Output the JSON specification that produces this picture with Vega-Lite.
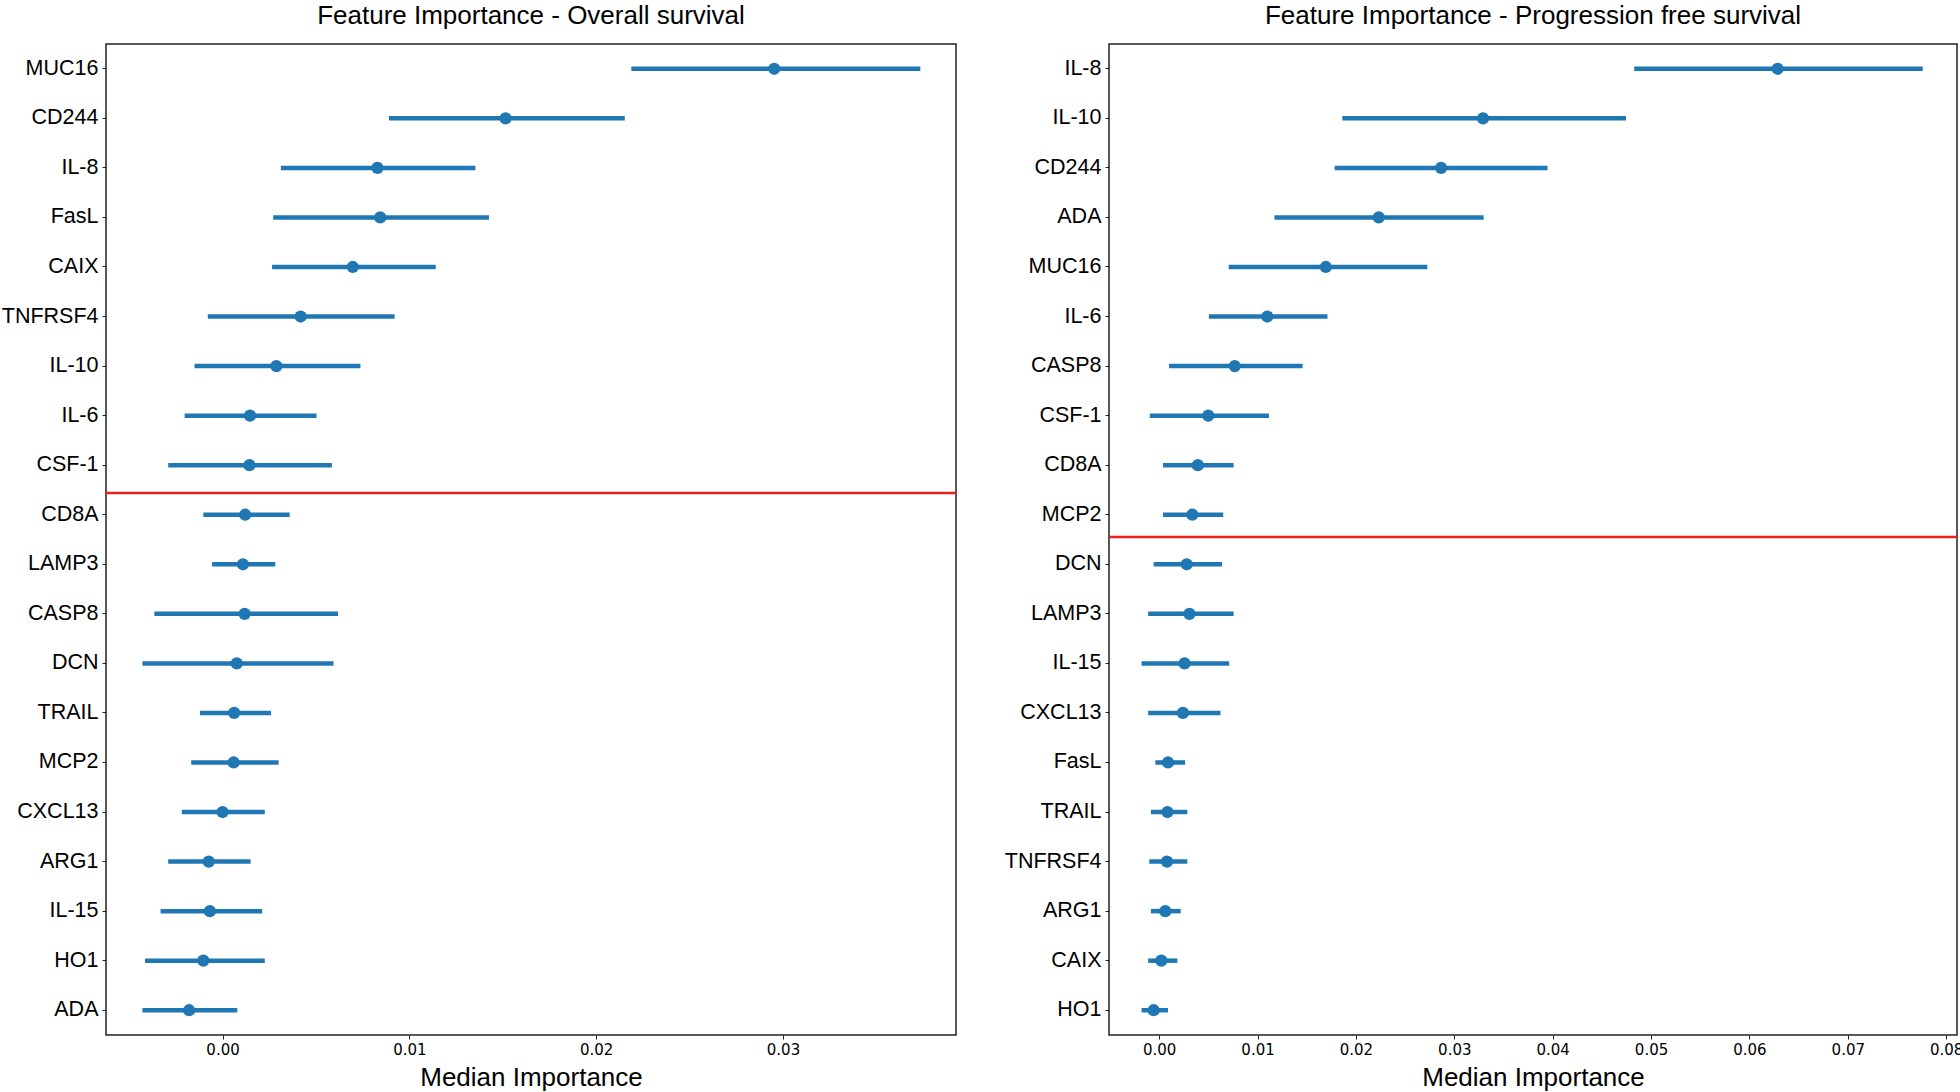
{
  "$schema": "https://vega.github.io/schema/vega-lite/v6.json",
  "padding": {"top": 2, "left": 0, "right": 0, "bottom": 0},
  "background": "white",
  "spacing": 40,
  "config": {
    "view": {"stroke": "#222222", "strokeWidth": 1.5},
    "axis": {"grid": false, "domain": false, "tickColor": "#222222", "tickSize": 4, "labelColor": "black", "titleColor": "black"},
    "title": {"font": "Liberation Sans", "fontSize": 26, "fontWeight": "normal", "color": "black", "baseline": "alphabetic", "offset": 15}
  },
  "datasets": {
    "os": [
      {"feature": "MUC16", "lo": 0.02188, "median": 0.02953, "hi": 0.03735},
      {"feature": "CD244", "lo": 0.00891, "median": 0.01515, "hi": 0.02153},
      {"feature": "IL-8", "lo": 0.00312, "median": 0.00829, "hi": 0.01353},
      {"feature": "FasL", "lo": 0.00271, "median": 0.00844, "hi": 0.01426},
      {"feature": "CAIX", "lo": 0.00265, "median": 0.00697, "hi": 0.01141},
      {"feature": "TNFRSF4", "lo": -0.00079, "median": 0.00418, "hi": 0.00921},
      {"feature": "IL-10", "lo": -0.0015, "median": 0.00288, "hi": 0.00738},
      {"feature": "IL-6", "lo": -0.00203, "median": 0.00147, "hi": 0.00503},
      {"feature": "CSF-1", "lo": -0.00291, "median": 0.00144, "hi": 0.00585},
      {"feature": "CD8A", "lo": -0.00103, "median": 0.00121, "hi": 0.00359},
      {"feature": "LAMP3", "lo": -0.00056, "median": 0.00109, "hi": 0.00282},
      {"feature": "CASP8", "lo": -0.00365, "median": 0.00118, "hi": 0.00618},
      {"feature": "DCN", "lo": -0.00429, "median": 0.00076, "hi": 0.00594},
      {"feature": "TRAIL", "lo": -0.00121, "median": 0.00062, "hi": 0.00259},
      {"feature": "MCP2", "lo": -0.00168, "median": 0.00059, "hi": 0.003},
      {"feature": "CXCL13", "lo": -0.00218, "median": 0.0, "hi": 0.00226},
      {"feature": "ARG1", "lo": -0.00291, "median": -0.00074, "hi": 0.0015},
      {"feature": "IL-15", "lo": -0.00332, "median": -0.00068, "hi": 0.00212},
      {"feature": "HO1", "lo": -0.00415, "median": -0.00103, "hi": 0.00226},
      {"feature": "ADA", "lo": -0.00429, "median": -0.00179, "hi": 0.00079}
    ],
    "pfs": [
      {"feature": "IL-8", "lo": 0.04829, "median": 0.06287, "hi": 0.07762},
      {"feature": "IL-10", "lo": 0.01862, "median": 0.03292, "hi": 0.04745},
      {"feature": "CD244", "lo": 0.01784, "median": 0.02866, "hi": 0.03948},
      {"feature": "ADA", "lo": 0.01172, "median": 0.02232, "hi": 0.03298},
      {"feature": "MUC16", "lo": 0.00707, "median": 0.01694, "hi": 0.02726},
      {"feature": "IL-6", "lo": 0.00505, "median": 0.01099, "hi": 0.01711},
      {"feature": "CASP8", "lo": 0.00101, "median": 0.00768, "hi": 0.01458},
      {"feature": "CSF-1", "lo": -0.00095, "median": 0.00499, "hi": 0.01116},
      {"feature": "CD8A", "lo": 0.00039, "median": 0.00393, "hi": 0.00757},
      {"feature": "MCP2", "lo": 0.00039, "median": 0.00337, "hi": 0.00651},
      {"feature": "DCN", "lo": -0.00056, "median": 0.0028, "hi": 0.00639},
      {"feature": "LAMP3", "lo": -0.00112, "median": 0.00308, "hi": 0.00757},
      {"feature": "IL-15", "lo": -0.00179, "median": 0.00258, "hi": 0.00712},
      {"feature": "CXCL13", "lo": -0.00112, "median": 0.00241, "hi": 0.00623},
      {"feature": "FasL", "lo": -0.00039, "median": 0.0009, "hi": 0.00264},
      {"feature": "TRAIL", "lo": -0.00084, "median": 0.00084, "hi": 0.00286},
      {"feature": "TNFRSF4", "lo": -0.00101, "median": 0.00079, "hi": 0.00286},
      {"feature": "ARG1", "lo": -0.00084, "median": 0.00062, "hi": 0.00219},
      {"feature": "CAIX", "lo": -0.00112, "median": 0.00022, "hi": 0.00185},
      {"feature": "HO1", "lo": -0.00179, "median": -0.00056, "hi": 0.0009}
    ],
    "os_cut": [{"feature": "CD8A"}],
    "pfs_cut": [{"feature": "MCP2"}]
  },
  "hconcat": [
    {
      "width": 850,
      "height": 991,
      "title": {"text": "Feature Importance - Overall survival"},
      "layer": [
        {
          "data": {"name": "os"},
          "mark": {"type": "rule", "color": "#1f77b4", "strokeWidth": 4.5},
          "encoding": {
            "y": {"field": "feature", "type": "nominal",
              "scale": {"domain": ["MUC16","CD244","IL-8","FasL","CAIX","TNFRSF4","IL-10","IL-6","CSF-1","CD8A","LAMP3","CASP8","DCN","TRAIL","MCP2","CXCL13","ARG1","IL-15","HO1","ADA"], "paddingInner": 0, "paddingOuter": 0},
              "axis": {"title": null, "labelFont": "Liberation Sans", "labelFontSize": 21.5, "labelPadding": 4, "minExtent": 105, "maxExtent": 105}},
            "x": {"field": "lo", "type": "quantitative",
              "scale": {"domain": [-0.00624, 0.03926], "nice": false, "zero": false},
              "axis": {"title": "Median Importance", "values": [0, 0.01, 0.02, 0.03], "format": ".2f", "labelFont": "DejaVu Sans", "labelFontSize": 15, "labelPadding": 3, "titleFont": "Liberation Sans", "titleFontSize": 26, "titleFontWeight": "normal", "titlePadding": 7}},
            "x2": {"field": "hi"}
          }
        },
        {
          "data": {"name": "os"},
          "mark": {"type": "circle", "color": "#1f77b4", "opacity": 1, "size": 150},
          "encoding": {
            "y": {"field": "feature", "type": "nominal"},
            "x": {"field": "median", "type": "quantitative"}
          }
        },
        {
          "data": {"name": "os_cut"},
          "mark": {"type": "rule", "color": "#e8211d", "strokeWidth": 2.5},
          "encoding": {
            "y": {"field": "feature", "type": "nominal", "bandPosition": 0.06}
          }
        }
      ]
    },
    {
      "width": 848,
      "height": 991,
      "title": {"text": "Feature Importance - Progression free survival"},
      "layer": [
        {
          "data": {"name": "pfs"},
          "mark": {"type": "rule", "color": "#1f77b4", "strokeWidth": 4.5},
          "encoding": {
            "y": {"field": "feature", "type": "nominal",
              "scale": {"domain": ["IL-8","IL-10","CD244","ADA","MUC16","IL-6","CASP8","CSF-1","CD8A","MCP2","DCN","LAMP3","IL-15","CXCL13","FasL","TRAIL","TNFRSF4","ARG1","CAIX","HO1"], "paddingInner": 0, "paddingOuter": 0},
              "axis": {"title": null, "labelFont": "Liberation Sans", "labelFontSize": 21.5, "labelPadding": 4, "minExtent": 110, "maxExtent": 110}},
            "x": {"field": "lo", "type": "quantitative",
              "scale": {"domain": [-0.0051, 0.0811], "nice": false, "zero": false},
              "axis": {"title": "Median Importance", "values": [0, 0.01, 0.02, 0.03, 0.04, 0.05, 0.06, 0.07, 0.08], "format": ".2f", "labelFont": "DejaVu Sans", "labelFontSize": 15, "labelPadding": 3, "titleFont": "Liberation Sans", "titleFontSize": 26, "titleFontWeight": "normal", "titlePadding": 7}},
            "x2": {"field": "hi"}
          }
        },
        {
          "data": {"name": "pfs"},
          "mark": {"type": "circle", "color": "#1f77b4", "opacity": 1, "size": 150},
          "encoding": {
            "y": {"field": "feature", "type": "nominal"},
            "x": {"field": "median", "type": "quantitative"}
          }
        },
        {
          "data": {"name": "pfs_cut"},
          "mark": {"type": "rule", "color": "#e8211d", "strokeWidth": 2.5},
          "encoding": {
            "y": {"field": "feature", "type": "nominal", "bandPosition": 0.95}
          }
        }
      ]
    }
  ]
}
